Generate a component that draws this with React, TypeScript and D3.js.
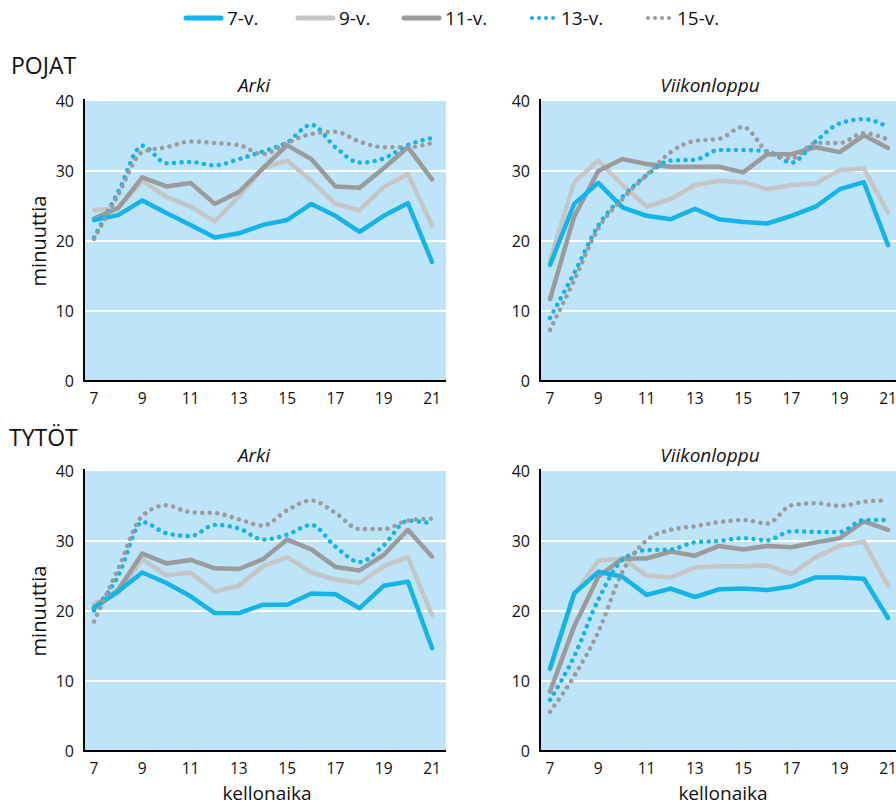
import React from "react";
import * as d3 from "d3";

const hours = [7, 8, 9, 10, 11, 12, 13, 14, 15, 16, 17, 18, 19, 20, 21];
const xTicks = [7, 9, 11, 13, 15, 17, 19, 21];
const yTicks = [0, 10, 20, 30, 40];
const seriesNames = ["7-v.", "9-v.", "11-v.", "13-v.", "15-v."];

// POJAT – Arki
const pojatArki7 = [23, 23.7, 25.8, 24, 22.3, 20.5, 21.1, 22.3, 23, 25.3, 23.6, 21.3, 23.6, 25.4, 17];
const pojatArki9 = [24.4, 24.7, 28.6, 26.3, 24.9, 22.8, 26.3, 30.4, 31.5, 28.6, 25.3, 24.4, 27.7, 29.6, 22.2];
const pojatArki11 = [23.2, 24.7, 29.1, 27.8, 28.3, 25.3, 27, 30.4, 33.7, 31.7, 27.8, 27.6, 30.4, 33.4, 28.8];
const pojatArki13 = [20.5, 27, 33.6, 31.1, 31.3, 30.8, 31.7, 32.8, 34.1, 36.6, 33.4, 31.2, 31.8, 33.7, 34.7];
const pojatArki15 = [20.3, 26.6, 32.7, 33.4, 34.2, 34, 33.7, 32.4, 34, 35.3, 35.6, 34.2, 33.4, 33.4, 34];

// POJAT – Viikonloppu
const pojatVkl7 = [16.6, 25.3, 28.3, 24.8, 23.6, 23.1, 24.6, 23.1, 22.7, 22.5, 23.6, 24.9, 27.4, 28.4, 19.4];
const pojatVkl9 = [17.3, 28.4, 31.5, 28, 24.9, 26, 28, 28.6, 28.4, 27.4, 28, 28.2, 30.1, 30.4, 24];
const pojatVkl11 = [11.7, 23.5, 30, 31.7, 31, 30.6, 30.6, 30.6, 29.8, 32.4, 32.4, 33.4, 32.7, 35.1, 33.3];
const pojatVkl13 = [9, 15.4, 22.2, 26.3, 29.4, 31.5, 31.6, 33, 33, 32.8, 31.2, 34.2, 36.8, 37.4, 36.3];
const pojatVkl15 = [7.3, 14.4, 21.8, 26, 29.4, 32.7, 34.3, 34.6, 36.3, 32.8, 31.8, 34, 34, 35.4, 34.5];

// TYTÖT – Arki
const tytotArki7 = [20.4, 22.8, 25.5, 24, 22.1, 19.7, 19.7, 20.9, 20.9, 22.5, 22.4, 20.4, 23.6, 24.2, 14.7];
const tytotArki9 = [21.1, 22.5, 27.4, 25.1, 25.5, 22.8, 23.6, 26.4, 27.7, 25.5, 24.5, 24, 26.4, 27.7, 19.4];
const tytotArki11 = [20.6, 23, 28.2, 26.8, 27.3, 26.1, 26, 27.4, 30.2, 28.8, 26.3, 25.8, 28, 31.6, 27.8];
const tytotArki13 = [20.1, 25, 32.7, 31.1, 30.7, 32.3, 31.8, 30.2, 30.9, 32.3, 29.2, 27, 29.4, 32.9, 32.5];
const tytotArki15 = [18.5, 26, 33.6, 35.1, 34.1, 34, 33.1, 32.2, 34.4, 35.8, 34, 31.7, 31.7, 32.9, 33.2];

// TYTÖT – Viikonloppu
const tytotVkl7 = [11.8, 22.5, 25.6, 24.9, 22.3, 23.2, 22, 23.1, 23.2, 23, 23.5, 24.8, 24.8, 24.6, 19];
const tytotVkl9 = [11.6, 22.3, 27.2, 27.5, 25.1, 24.8, 26.2, 26.4, 26.4, 26.5, 25.3, 27.7, 29.3, 29.9, 23.6];
const tytotVkl11 = [8.5, 17.8, 24.9, 27.5, 27.5, 28.5, 27.9, 29.3, 28.8, 29.3, 29.1, 29.8, 30.4, 32.8, 31.6];
const tytotVkl13 = [7.3, 13.5, 21.6, 27.3, 28.7, 28.8, 29.8, 30, 30.4, 30.1, 31.4, 31.3, 31.3, 33, 33];
const tytotVkl15 = [5.6, 10.7, 17, 25.6, 30.1, 31.6, 32.1, 32.7, 33, 32.5, 35.1, 35.4, 35, 35.6, 35.8];

const BLUE = "#13b4ea";
const LIGHT = "#c6c6c6";
const DARK = "#9b9b9b";
const BG = "#bde4f8";
const FONT = "'Open Sans', sans-serif";

type Style = { color: string; dotted: boolean };
const styles: Style[] = [
  { color: BLUE, dotted: false },
  { color: LIGHT, dotted: false },
  { color: DARK, dotted: false },
  { color: BLUE, dotted: true },
  { color: DARK, dotted: true },
];

const panels = [
  { left: 84, top: 101, bottom: 381, title: "Arki", yLabel: true, xLabel: false, data: [pojatArki7, pojatArki9, pojatArki11, pojatArki13, pojatArki15] },
  { left: 540, top: 101, bottom: 381, title: "Viikonloppu", yLabel: false, xLabel: false, data: [pojatVkl7, pojatVkl9, pojatVkl11, pojatVkl13, pojatVkl15] },
  { left: 84, top: 471, bottom: 751, title: "Arki", yLabel: true, xLabel: true, data: [tytotArki7, tytotArki9, tytotArki11, tytotArki13, tytotArki15] },
  { left: 540, top: 471, bottom: 751, title: "Viikonloppu", yLabel: false, xLabel: true, data: [tytotVkl7, tytotVkl9, tytotVkl11, tytotVkl13, tytotVkl15] },
];

const PLOT_W = 362;

function Panel({ p }: { p: (typeof panels)[number] }) {
  const x = d3.scaleLinear().domain([7, 21]).range([p.left + 10, p.left + 348]);
  const y = d3.scaleLinear().domain([0, 40]).range([p.bottom, p.top]);
  const solid = d3.line<number>().x((_, i) => x(hours[i])).y((d) => y(d)).curve(d3.curveLinear);
  const smooth = d3.line<number>().x((_, i) => x(hours[i])).y((d) => y(d)).curve(d3.curveMonotoneX);
  const right = p.left + PLOT_W;
  const order = [1, 2, 0, 3, 4];
  return (
    <g>
      <rect x={p.left} y={y(40)} width={PLOT_W} height={y(0) - y(40)} fill={BG} />
      {yTicks.filter((t) => t > 0 && t < 40).map((t) => (
        <line key={t} x1={p.left} x2={right} y1={y(t)} y2={y(t)} stroke="#fff" strokeWidth={2} />
      ))}
      {order.map((si) => {
        const s = styles[si];
        const d = (s.dotted ? smooth : solid)(p.data[si]) || "";
        return (
          <path
            key={si}
            d={d}
            fill="none"
            stroke={s.color}
            strokeWidth={s.dotted ? 4.5 : 4.5}
            strokeLinecap="round"
            strokeLinejoin="round"
            strokeDasharray={s.dotted ? "0.01 7.5" : undefined}
          />
        );
      })}
      <line x1={p.left} x2={p.left} y1={y(40) - 2} y2={y(0) + 1} stroke="#000" strokeWidth={2} />
      <line x1={p.left - 1} x2={right} y1={y(0)} y2={y(0)} stroke="#000" strokeWidth={2} />
      {yTicks.map((t) => (
        <text key={t} x={p.left - 10} y={y(t)} dy="0.36em" textAnchor="end" fontSize={16} fontFamily={FONT} fill="#111">
          {t}
        </text>
      ))}
      {xTicks.map((t) => (
        <text key={t} x={x(t)} y={p.bottom + 23} textAnchor="middle" fontSize={15.5} fontFamily={FONT} fill="#111">
          {t}
        </text>
      ))}
      <text x={p.left + 170} y={p.top - 9} textAnchor="middle" fontSize={19} fontStyle="italic" fontFamily={FONT} fill="#111">
        {p.title}
      </text>
      {p.yLabel && (
        <text
          transform={`translate(46,${(y(0) + y(40)) / 2}) rotate(-90)`}
          textAnchor="middle"
          fontSize={20}
          fontFamily={FONT}
          fill="#111"
        >
          minuuttia
        </text>
      )}
      {p.xLabel && (
        <text x={p.left + 183} y={p.bottom + 49} textAnchor="middle" fontSize={19} fontFamily={FONT} fill="#111">
          kellonaika
        </text>
      )}
    </g>
  );
}

const legendX = [186, 298, 404, 530, 646];

function Legend() {
  return (
    <g>
      {seriesNames.map((name, i) => {
        const s = styles[i];
        const x0 = legendX[i];
        const len = s.dotted ? 24 : 35;
        return (
          <g key={name}>
            <line
              x1={x0 + (s.dotted ? 2 : 0)}
              x2={x0 + len}
              y1={18}
              y2={18}
              stroke={s.color}
              strokeWidth={s.dotted ? 4 : 5}
              strokeLinecap="round"
              strokeDasharray={s.dotted ? "0.01 7" : undefined}
            />
            <text x={x0 + len + (s.dotted ? 7 : 6)} y={18} dy="0.36em" fontSize={19} fontFamily={FONT} fill="#111">
              {name}
            </text>
          </g>
        );
      })}
    </g>
  );
}

export default function App() {
  return (
    <svg
      width={896}
      height={807}
      style={{ position: "absolute", left: 0, top: 0, background: "#fff" }}
    >
      <Legend />
      <text x={11} y={74} fontSize={23} fontFamily={FONT} fill="#111">POJAT</text>
      <text x={9} y={446} fontSize={23} fontFamily={FONT} fill="#111">TYTÖT</text>
      {panels.map((p, i) => (
        <Panel key={i} p={p} />
      ))}
    </svg>
  );
}
